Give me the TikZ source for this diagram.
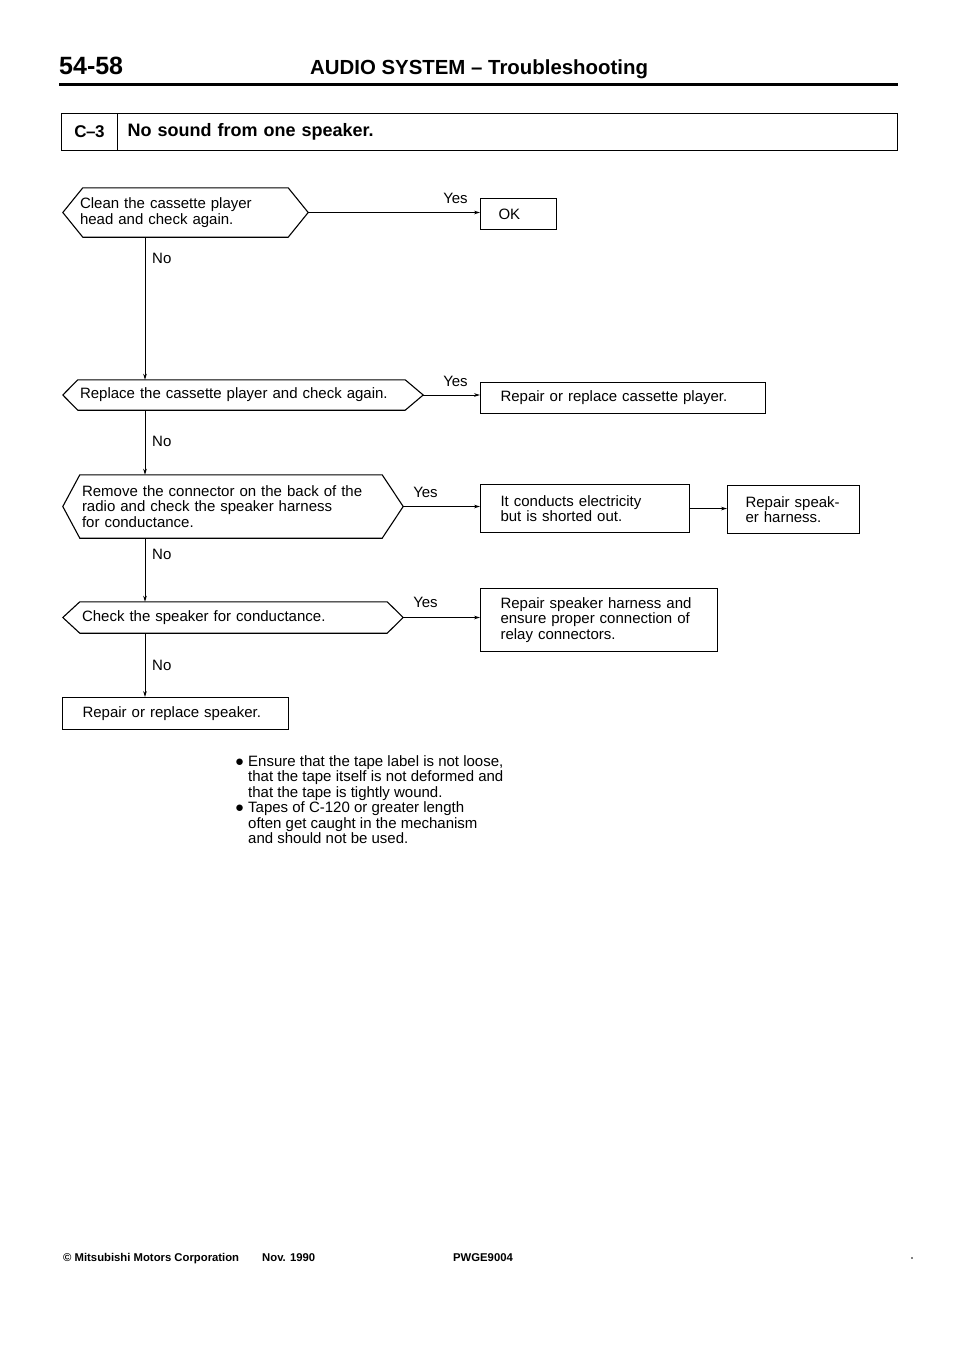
\documentclass[tikz,border=0pt]{standalone}
\usepackage{fontspec}
\setmainfont{Liberation Sans}
\usetikzlibrary{arrows.meta,calc}
\newcommand\bodyfont{\fontsize{15}{15.5}\selectfont}
\newcommand\notebullet[1]{\makebox[13pt][l]{●}\parbox[t]{290pt}{\bodyfont\baselineskip=15.4pt #1}}
\begin{document}
\begin{tikzpicture}[x=1pt,y=-1pt,
  conn/.style={line width=0.9pt, -{Stealth[length=6pt,width=3.6pt]}},
  bx/.style={draw, line width=1.1pt, inner xsep=20pt, inner ysep=0pt, align=left, font=\bodyfont, anchor=north west},
  dec/.style={inner ysep=0pt, align=left, font=\bodyfont},
  hexline/.style={line width=1.1pt, line join=miter},
  lbl/.style={font=\bodyfont, inner sep=0pt},
  hdr/.style={anchor=base west, inner sep=0pt},
  foot/.style={anchor=base west, inner sep=0pt, font=\fontsize{11.3}{11.3}\selectfont\bfseries}]
\useasboundingbox (0,0) rectangle (960,1358);

% header
\node[hdr, font=\fontsize{25}{25}\selectfont\bfseries] (pg) at (59,74) {54-58};
\node[hdr, font=\fontsize{20.4}{21}\selectfont\bfseries] (ttl) at (310,74) {AUDIO SYSTEM – Troubleshooting};
\draw[line width=2.6pt] (59,84.5) -- (898,84.5);

% C-3 title
\node[draw, line width=1.1pt, anchor=north west, minimum width=56pt, minimum height=37pt, inner sep=0pt,
      font=\fontsize{17}{17}\selectfont\bfseries] (c3) at (61,113) {C\kern-0.5pt–\kern-0.5pt3};
\node[draw, line width=1.1pt, anchor=north west, minimum height=37pt, inner xsep=10pt, inner ysep=0pt,
      text width=760pt, align=left, font=\fontsize{18}{18}\selectfont\bfseries] (c3t) at (117,113) {No sound from one speaker.};

% decisions
\node[dec, text width=211pt, inner xsep=17pt, minimum height=49pt] (d1) at (185.5,212.5)
  {Clean the cassette player\\head and check again.};
\draw[hexline] (d1.west) -- ([xshift=20pt]d1.north west) -- ([xshift=-20pt]d1.north east) -- (d1.east)
  -- ([xshift=-20pt]d1.south east) -- ([xshift=20pt]d1.south west) -- cycle;

\node[dec, text width=326pt, inner xsep=17pt, minimum height=30pt] (d2) at (243,395)
  {Replace the cassette player and check again.};
\draw[hexline] (d2.west) -- ([xshift=15pt]d2.north west) -- ([xshift=-18pt]d2.north east) -- (d2.east)
  -- ([xshift=-18pt]d2.south east) -- ([xshift=15pt]d2.south west) -- cycle;

\node[dec, text width=302pt, inner xsep=19pt, minimum height=63pt] (d3) at (233,506.5)
  {Remove the connector on the back of the\\radio and check the speaker harness\\for conductance.};
\draw[hexline] (d3.west) -- ([xshift=17pt]d3.north west) -- ([xshift=-21pt]d3.north east) -- (d3.east)
  -- ([xshift=-21pt]d3.south east) -- ([xshift=17pt]d3.south west) -- cycle;

\node[dec, text width=302pt, inner xsep=19pt, minimum height=31pt] (d4) at (233,617.5)
  {Check the speaker for conductance.};
\draw[hexline] (d4.west) -- ([xshift=17pt]d4.north west) -- ([xshift=-16pt]d4.north east) -- (d4.east)
  -- ([xshift=-16pt]d4.south east) -- ([xshift=17pt]d4.south west) -- cycle;

% result boxes
\node[bx, inner xsep=18pt, text width=40pt, minimum height=31pt] (ok) at (480,198) {OK};
\node[bx, text width=245pt, minimum height=31pt] (b2) at (480,382) {Repair or replace cassette player.};
\node[bx, text width=169pt, minimum height=48pt] (b3) at (480,484) {It conducts electricity\\but is shorted out.};
\node[bx, inner xsep=18pt, text width=96pt, minimum height=48pt] (b4) at (727,485) {Repair speak-\\er harness.};
\node[bx, text width=197pt, minimum height=63pt] (b5) at (480,588) {Repair speaker harness and\\ensure proper connection of\\relay connectors.};
\node[bx, text width=186pt, minimum height=32pt] (b6) at (62,697) {Repair or replace speaker.};

% connectors
\coordinate (sp) at (145,0);
\draw[conn] (d1.south -| sp) -- (d2.north -| sp);
\draw[conn] (d2.south -| sp) -- (d3.north -| sp);
\draw[conn] (d3.south -| sp) -- (d4.north -| sp);
\draw[conn] (d4.south -| sp) -- (b6.north -| sp);
\draw[conn] (d1.east) -- (d1.east -| ok.west);
\draw[conn] (d2.east) -- (d2.east -| b2.west);
\draw[conn] (d3.east) -- (d3.east -| b3.west);
\draw[conn] (b3.east) -- (b3.east -| b4.west);
\draw[conn] (d4.east) -- (d4.east -| b5.west);

% labels
\node[lbl] (y1) at (455.5,198) {Yes};
\node[lbl] (y2) at (455.5,381) {Yes};
\node[lbl] (y3) at (425.5,492) {Yes};
\node[lbl] (y4) at (425.5,602) {Yes};
\node[lbl, anchor=west] (n1) at (152,258) {No};
\node[lbl, anchor=west] (n2) at (152,441) {No};
\node[lbl, anchor=west] (n3) at (152,554) {No};
\node[lbl, anchor=west] (n4) at (152,665) {No};

% notes
\node[anchor=north west, inner sep=0pt, font=\bodyfont] (note1) at (235,755.5)
  {\notebullet{Ensure that the tape label is not loose,\\that the tape itself is not deformed and\\that the tape is tightly wound.}};
\node[anchor=north west, inner sep=0pt, font=\bodyfont] (note2) at (235,801.7)
  {\notebullet{Tapes of C-120 or greater length\\often get caught in the mechanism\\and should not be used.}};

% footer
\node[foot] (f1) at (63,1261) {© Mitsubishi Motors Corporation};
\node[foot] (f2) at (262,1261) {Nov. 1990};
\node[foot] (f3) at (453,1261) {PWGE9004};
\fill (912,1258) circle[radius=0.9pt];
\end{tikzpicture}
\end{document}
